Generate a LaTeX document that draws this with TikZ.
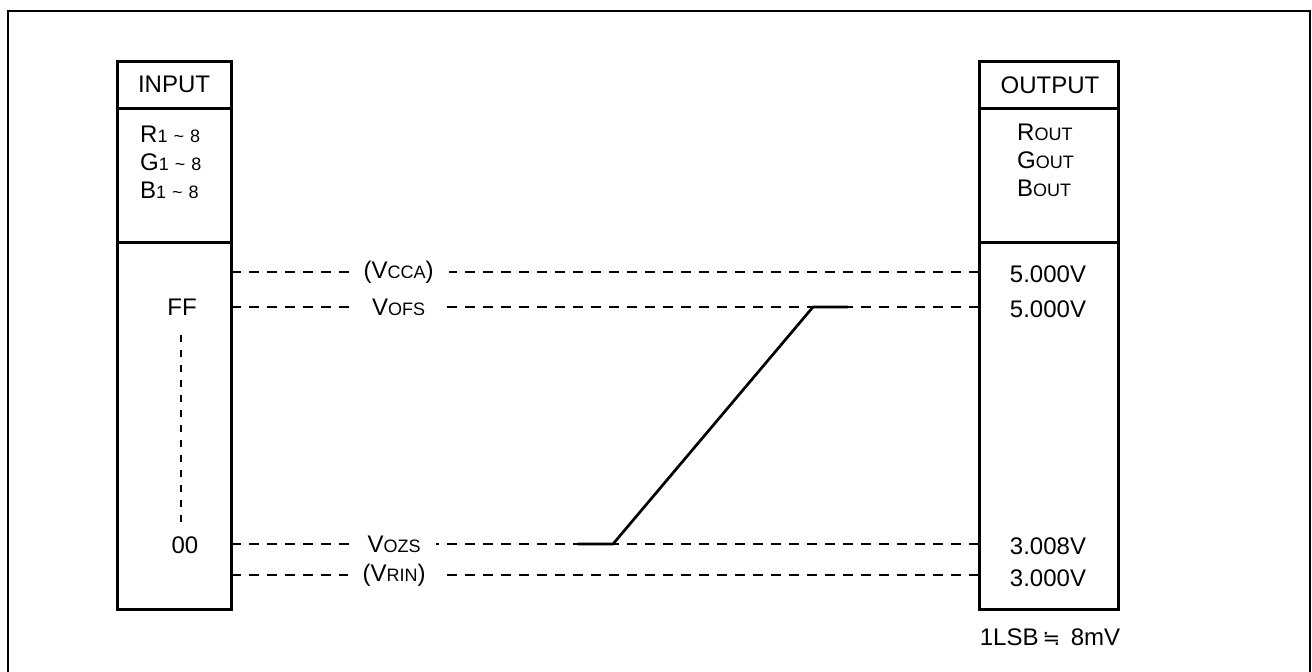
\documentclass[tikz,border=0pt]{standalone}
\usepackage{fontspec}
\setmainfont{Liberation Sans}
\newfontfamily\dejavu{DejaVu Sans}
\newcommand\smtxt[1]{{\fontsize{18}{21}\selectfont #1}}
\newcommand\rng{\smtxt{1\hspace{6pt}\textasciitilde\hspace{6pt}8}}
\begin{document}
\begin{tikzpicture}[x=1pt,y=-1pt,
  txt/.style={font=\fontsize{24}{28}\selectfont, inner sep=0pt},
  boxline/.style={line width=3pt},
  frameline/.style={line width=2.8pt},
  dashline/.style={line width=1.3pt, dash pattern=on 10pt off 8pt},
  vdash/.style={line width=1.2pt, dash pattern=on 7pt off 8pt},
  lab/.style={txt, fill=white, inner xsep=15pt, inner ysep=2pt},
  curve/.style={line width=2.7pt}
]
\clip (0,0) rectangle (1312,672);
% outer frame (bottom edge outside)
\draw[frameline] (8,700) -- (8,11) -- (1310,11) -- (1310,700);

% input box
\coordinate (inTL) at (117,61);
\coordinate (inBR) at (231,609);
\draw[boxline] (inTL) rectangle (inBR);
\draw[boxline] (117,108) -- (231,108);
\draw[boxline] (117,242) -- (231,242);

% output box
\coordinate (outTL) at (979,61);
\coordinate (outBR) at (1118,609);
\draw[boxline] (outTL) rectangle (outBR);
\draw[boxline] (979,108) -- (1118,108);
\draw[boxline] (979,242) -- (1118,242);

% header texts
\node[txt, anchor=base] (input) at (174,92) {INPUT};
\node[txt, anchor=base] (output) at (1050,93) {OUTPUT};

\node[txt, anchor=base west] (r) at (140,142) {R\rng};
\node[txt, anchor=base west] (g) at (140,170) {G\rng};
\node[txt, anchor=base west] (b) at (140,198) {B\rng};

\node[txt, anchor=base west] (rout) at (1017,140) {R\smtxt{OUT}};
\node[txt, anchor=base west] (gout) at (1017,168) {G\smtxt{OUT}};
\node[txt, anchor=base west] (bout) at (1017,196) {B\smtxt{OUT}};

% left column codes
\node[txt] (ff) at (182,307) {FF};
\node[txt] (zz) at (185,545) {00};
\draw[vdash] (181,335) -- (181,522);

% connection coordinates
\coordinate (a1) at (231,272); \coordinate (b1) at (979,272);
\coordinate (a2) at (231,307); \coordinate (b2) at (979,307);
\coordinate (a3) at (231,544); \coordinate (b3) at (979,544);
\coordinate (a4) at (231,575); \coordinate (b4) at (979,575);

\draw[dashline] (a1) -- node[lab, pos=0.224] (vcca) {(V\smtxt{CCA})} (b1);
\draw[dashline] (a2) -- node[lab, pos=0.224] (vofs) {V\smtxt{OFS}} (b2);
\draw[dashline] (a3) -- node[lab, pos=0.218] (vozs) {V\smtxt{OZS}} (b3);
\draw[dashline] (a4) -- node[lab, pos=0.218] (vrin) {(V\smtxt{RIN})} (b4);

% transfer curve
\coordinate (c0) at (578,544);
\coordinate (c1) at (613,544);
\coordinate (c2) at (813,307);
\coordinate (c3) at (848,307);
\draw[curve] (c0) -- (c1) -- (c2) -- (c3);

% output values
\node[txt] (v1) at (1048,274) {5.000V};
\node[txt] (v2) at (1048,309) {5.000V};
\node[txt] (v3) at (1048,546) {3.008V};
\node[txt] (v4) at (1048,578) {3.000V};

\node[txt] (lsb) at (1050,637) {1LSB\,{\dejavu\fontsize{21}{24}\selectfont ≒}\, 8mV};
\end{tikzpicture}
\end{document}
